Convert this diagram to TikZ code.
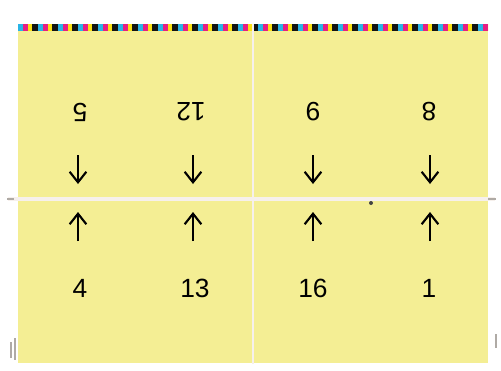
\documentclass[tikz,border=0pt]{standalone}
\usepackage{fontspec}
\setmainfont{Liberation Sans}
\usetikzlibrary{arrows.meta}
\definecolor{shYellow}{RGB}{244, 238, 148}
\definecolor{shLine}{RGB}{246, 240, 236}
\definecolor{shMark}{RGB}{175, 170, 165}
\definecolor{cbCyan}{RGB}{40, 180, 230}
\definecolor{cbMagenta}{RGB}{230, 30, 130}
\definecolor{cbYellow}{RGB}{250, 225, 20}
\definecolor{cbBlack}{RGB}{20, 20, 20}

\begin{document}
\begin{tikzpicture}[x=0.02cm, y=-0.02cm,
          pnum/.style={font=\fontsize{15}{17}\selectfont, inner sep=0pt},
          flip/.style={pnum, rotate=180},
          parr/.style={line width=1.2pt, -{Straight Barb[length=6pt, width=9.5pt, line width=1.2pt]}}]
        \useasboundingbox (0,0) rectangle (501,370);
        % sheet
        \fill[shYellow] (18,30) rectangle (488,363);
        % colour bar
        \begin{scope}
          \clip (18,24) rectangle (488,31);
          \foreach \i in {0,...,23} {
            \fill[cbCyan]    ({18+20*\i},24) rectangle ++(5,7);
            \fill[cbMagenta] ({23+20*\i},24) rectangle ++(5,7);
            \fill[cbYellow]  ({28+20*\i},24) rectangle ++(4,7);
            \fill[cbBlack]   ({32+20*\i},24) rectangle ++(6,7);
          }
        \end{scope}
        % fold lines
        \coordinate (fl) at (8,199);
        \coordinate (fr) at (495,199);
        \coordinate (ft) at (253,24);
        \coordinate (fb) at (253,364);
        \draw[shLine, line width=1.8pt] (fl) -- (fr);
        \draw[shLine, line width=1.6pt] (ft) -- (fb);
        \draw[shMark, line width=0.8pt] (7,199) -- (14,199);
        \draw[shMark, line width=0.8pt] (488,199) -- (496,199);
        \fill[cbBlack!80] (371,203) circle (2);
        % cut marks
        \draw[shMark, line width=0.6pt] (11,342) -- (11,358);
        \draw[shMark, line width=0.6pt] (15,338) -- (15,360);
        \draw[shMark, line width=0.6pt] (496,334) -- (496,348);
        % upper pages
        \node[flip] (p5)  at (80,112)  {5};
        \node[flip] (p12) at (191,112) {12};
        \node[flip] (p9)  at (313,112) {9};
        \node[flip] (p8)  at (429,112) {8};
        % lower pages
        \node[pnum] (p4)  at (80,288)  {4};
        \node[pnum] (p13) at (195,288) {13};
        \node[pnum] (p16) at (313,288) {16};
        \node[pnum] (p1)  at (429,288) {1};
        % arrows
        \coordinate (a5)  at (78,155);
        \coordinate (a12) at (193,155);
        \coordinate (a9)  at (313,155);
        \coordinate (a8)  at (430,155);
        \coordinate (b5)  at (78,184);
        \coordinate (b12) at (193,184);
        \coordinate (b9)  at (313,184);
        \coordinate (b8)  at (430,184);
        \coordinate (a4)  at (78,241);
        \coordinate (a13) at (193,241);
        \coordinate (a16) at (313,241);
        \coordinate (a1)  at (430,241);
        \coordinate (b4)  at (78,212);
        \coordinate (b13) at (193,212);
        \coordinate (b16) at (313,212);
        \coordinate (b1)  at (430,212);
        \draw[parr] (a5) -- (b5);
        \draw[parr] (a12) -- (b12);
        \draw[parr] (a9) -- (b9);
        \draw[parr] (a8) -- (b8);
        \draw[parr] (a4) -- (b4);
        \draw[parr] (a13) -- (b13);
        \draw[parr] (a16) -- (b16);
        \draw[parr] (a1) -- (b1);
      \end{tikzpicture}
\end{document}
